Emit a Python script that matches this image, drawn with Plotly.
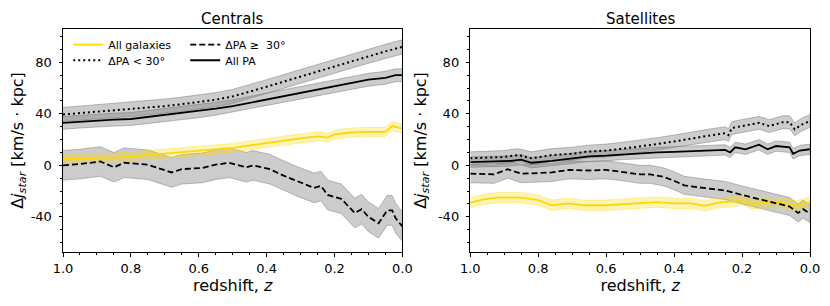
import plotly.graph_objects as go

# ---------------- data ----------------
# Centrals
c_gold_z = [1.0, 0.95, 0.9, 0.85, 0.8, 0.75, 0.7, 0.65, 0.6, 0.55, 0.5, 0.45, 0.4, 0.35, 0.3, 0.25, 0.22, 0.2, 0.15, 0.1, 0.05, 0.03, 0.0]
c_gold_v = [5.5, 5.5, 5.5, 6, 7, 8, 9, 10, 11, 12, 13.5, 15.5, 17.5, 19.5, 21, 22.5, 21.5, 24, 25.5, 26, 26, 30.5, 28.5]
c_gold_e = [3.5] * len(c_gold_z)

c_lt30_z = [1.0, 0.95, 0.9, 0.85, 0.8, 0.75, 0.7, 0.65, 0.6, 0.55, 0.5, 0.45, 0.4, 0.35, 0.3, 0.25, 0.2, 0.15, 0.1, 0.05, 0.0]
c_lt30_v = [39.5, 40.5, 41.5, 42.5, 43.5, 44.5, 46, 47.5, 49, 51, 53.5, 57, 61, 65, 69, 73, 77, 81, 85, 88.5, 92]
c_lt30_e = [5.5] * len(c_lt30_z)

c_all_z = [1.0, 0.95, 0.9, 0.85, 0.8, 0.75, 0.7, 0.65, 0.6, 0.55, 0.5, 0.45, 0.4, 0.35, 0.3, 0.25, 0.2, 0.15, 0.1, 0.05, 0.02, 0.0]
c_all_v = [33, 34, 35, 35.5, 36, 37.5, 39, 40.5, 42, 44, 46, 48.5, 51, 53.5, 56.5, 59, 61.5, 64, 66.5, 68, 70, 70]
c_all_e = [5] * len(c_all_z)

c_ge30_z = [1.0, 0.95, 0.89, 0.85, 0.82, 0.75, 0.68, 0.65, 0.59, 0.55, 0.51, 0.46, 0.44, 0.39, 0.35, 0.31, 0.26, 0.24, 0.22, 0.18, 0.14, 0.12, 0.1, 0.07, 0.045, 0.03, 0.02, 0.0]
c_ge30_v = [0, 1, 3, -1.5, 2, 0.5, -5.5, -3, -2, 0.5, 2, -1.5, 0, -3, -8, -12.5, -17.5, -16, -23, -26, -37, -34, -40, -45, -35, -35, -41, -47.5]
c_ge30_e = [11.5] * len(c_ge30_z)

# Satellites
s_gold_z = [1.0, 0.96, 0.92, 0.85, 0.8, 0.76, 0.71, 0.67, 0.6, 0.53, 0.5, 0.45, 0.4, 0.35, 0.31, 0.27, 0.22, 0.2, 0.17, 0.13, 0.08, 0.06, 0.04, 0.0]
s_gold_v = [-29, -26.5, -25, -25, -27, -31, -29.5, -31, -31, -30, -29.5, -28.5, -29.5, -29.5, -31.5, -29, -28, -26.5, -30, -29, -29, -30, -31.5, -28.5]
s_gold_e = [4] * len(s_gold_z)

s_lt30_z = [1.0, 0.95, 0.9, 0.86, 0.82, 0.76, 0.7, 0.66, 0.6, 0.55, 0.5, 0.45, 0.4, 0.35, 0.3, 0.25, 0.24, 0.23, 0.2, 0.15, 0.12, 0.08, 0.06, 0.045, 0.025, 0.0]
s_lt30_v = [5.5, 6, 6.5, 8, 5.5, 8, 9, 10.5, 11.5, 13, 14.5, 16.5, 18.5, 21, 23, 25, 23.5, 29, 30.5, 33, 30.5, 33.5, 33.5, 28, 31.5, 34.5]
s_lt30_e = [5] * len(s_lt30_z)

s_all_z = [1.0, 0.93, 0.88, 0.85, 0.82, 0.76, 0.7, 0.65, 0.6, 0.55, 0.5, 0.45, 0.4, 0.35, 0.3, 0.25, 0.235, 0.22, 0.19, 0.15, 0.125, 0.1, 0.06, 0.05, 0.03, 0.0]
s_all_v = [2.5, 3, 3.5, 4.5, 2, 3.5, 5.5, 7, 7.5, 8.5, 9.5, 10, 10.5, 11, 11.5, 12, 10, 14, 12.5, 16, 12.5, 15, 14, 9, 11.5, 12.5]
s_all_e = [4] * len(s_all_z)

s_ge30_z = [1.0, 0.93, 0.89, 0.85, 0.8, 0.76, 0.71, 0.65, 0.6, 0.55, 0.5, 0.47, 0.43, 0.4, 0.37, 0.33, 0.3, 0.25, 0.2, 0.17, 0.14, 0.1, 0.06, 0.035, 0.02, 0.0]
s_ge30_v = [-6.5, -7, -3, -6.5, -6, -5.5, -3.5, -4, -3.5, -5, -7, -7, -9, -12, -15.5, -17, -18, -19.5, -23, -25, -27, -29.5, -32, -37, -34, -37.5]
s_ge30_e = [7] * len(s_ge30_z)

x_tickvals = [1.0, 0.8, 0.6, 0.4, 0.2, 0.0]
x_ticktext = ["1.0", "0.8", "0.6", "0.4", "0.2", "0.0"]
y_tickvals = [-40, 0, 40, 80]
y_ticktext = ["-40", "0", "40", "80"]

panel_titles = ["Centrals", "Satellites"]
series_names = ["All galaxies", "ΔPA ≥  30°", "ΔPA < 30°", "All PA"]

# ---------------- styles ----------------
FONT = "DejaVu Sans"
GOLD = "#FFD700"
GOLD_FILL = "rgba(255,215,0,0.28)"
GOLD_EDGE = "rgba(255,215,0,0.45)"
GRAY_FILL = "rgba(128,128,128,0.40)"
GRAY_EDGE = "rgba(110,110,110,0.55)"

fig = go.Figure()

panels = [
    dict(xa="x", ya="y",
         gold=(c_gold_z, c_gold_v, c_gold_e),
         lt=(c_lt30_z, c_lt30_v, c_lt30_e),
         al=(c_all_z, c_all_v, c_all_e),
         ge=(c_ge30_z, c_ge30_v, c_ge30_e)),
    dict(xa="x2", ya="y2",
         gold=(s_gold_z, s_gold_v, s_gold_e),
         lt=(s_lt30_z, s_lt30_v, s_lt30_e),
         al=(s_all_z, s_all_v, s_all_e),
         ge=(s_ge30_z, s_ge30_v, s_ge30_e)),
]


def band(z, v, e, fill, edge, xa, ya):
    hi = [a + b for a, b in zip(v, e)]
    lo = [a - b for a, b in zip(v, e)]
    fig.add_trace(go.Scatter(
        x=list(z) + list(z)[::-1], y=hi + lo[::-1], xaxis=xa, yaxis=ya,
        fill="toself", fillcolor=fill, mode="lines",
        line=dict(color=edge, width=0.8), showlegend=False, hoverinfo="skip"))


for i, p in enumerate(panels):
    xa, ya = p["xa"], p["ya"]
    band(*p["ge"], GRAY_FILL, GRAY_EDGE, xa, ya)
    band(*p["lt"], GRAY_FILL, GRAY_EDGE, xa, ya)
    band(*p["al"], GRAY_FILL, GRAY_EDGE, xa, ya)
    band(*p["gold"], GOLD_FILL, GOLD_EDGE, xa, ya)
    first = (i == 0)
    fig.add_trace(go.Scatter(x=p["gold"][0], y=p["gold"][1], xaxis=xa, yaxis=ya, mode="lines",
                             line=dict(color=GOLD, width=1.8), name=series_names[0],
                             showlegend=first, legend="legend"))
    fig.add_trace(go.Scatter(x=p["ge"][0], y=p["ge"][1], xaxis=xa, yaxis=ya, mode="lines",
                             line=dict(color="black", width=1.8, dash="6px,3px"), name=series_names[1],
                             showlegend=first, legend="legend"))
    fig.add_trace(go.Scatter(x=p["lt"][0], y=p["lt"][1], xaxis=xa, yaxis=ya, mode="lines",
                             line=dict(color="black", width=2, dash="2px,3px"), name=series_names[2],
                             showlegend=first, legend="legend2"))
    fig.add_trace(go.Scatter(x=p["al"][0], y=p["al"][1], xaxis=xa, yaxis=ya, mode="lines",
                             line=dict(color="black", width=1.8), name=series_names[3],
                             showlegend=first, legend="legend2"))

axis_common = dict(showline=True, linecolor="black", linewidth=1, mirror=True, automargin=False,
                   showgrid=False, zeroline=False, ticks="outside", ticklen=3.5,
                   tickwidth=1, tickcolor="black",
                   tickfont=dict(family=FONT, size=13, color="black"))

xcommon = dict(axis_common, range=[1.0, 0.0], tickmode="array", tickvals=x_tickvals,
               ticktext=x_ticktext, ticklabelstandoff=1,
               minor=dict(dtick=0.05, tick0=0, ticks="outside", ticklen=2, tickcolor="black"),
               title=dict(text="redshift, <i>z</i>", font=dict(family=FONT, size=16, color="black"),
                          standoff=2))
ycommon = dict(axis_common, range=[-67.3, 105.9], tickmode="array", tickvals=y_tickvals,
               ticktext=y_ticktext, ticklabelstandoff=4,
               minor=dict(dtick=10, tick0=0, ticks="outside", ticklen=2, tickcolor="black"),
               title=dict(text="Δ<i>j</i><sub><i>star</i></sub> [km/s · kpc]",
                          font=dict(family=FONT, size=16, color="black"), standoff=7))

# the page body adds an 8px offset, so the figure is 8px smaller on each axis
fig.update_layout(
    template="none",
    width=822, height=298,
    margin=dict(l=55, r=20, t=21, b=54, autoexpand=False),
    paper_bgcolor="white", plot_bgcolor="white",
    xaxis=dict(xcommon, domain=[0, 0.4543], anchor="y"),
    yaxis=dict(ycommon, domain=[0, 1], anchor="x"),
    xaxis2=dict(xcommon, domain=[0.5452, 1.0], anchor="y2"),
    yaxis2=dict(ycommon, domain=[0, 1], anchor="x2"),
    legend=dict(orientation="h", x=0.007, y=0.995, xanchor="left", yanchor="top",
                bgcolor="rgba(0,0,0,0)", font=dict(family=FONT, size=11, color="black"),
                entrywidth=72, entrywidthmode="pixels", tracegroupgap=0),
    legend2=dict(orientation="h", x=0.007, y=0.925, xanchor="left", yanchor="top",
                 bgcolor="rgba(0,0,0,0)", font=dict(family=FONT, size=11, color="black"),
                 entrywidth=72, entrywidthmode="pixels", tracegroupgap=0),
    showlegend=True,
)

centers = [0.4543 / 2, (0.5452 + 1.0) / 2]
for t, cx in zip(panel_titles, centers):
    fig.add_annotation(text=t, x=cx, y=1, xref="paper", yref="paper",
                       xanchor="center", yanchor="bottom", yshift=0, showarrow=False,
                       borderpad=0, font=dict(family=FONT, size=15, color="black"))

fig.write_html("out.html")
